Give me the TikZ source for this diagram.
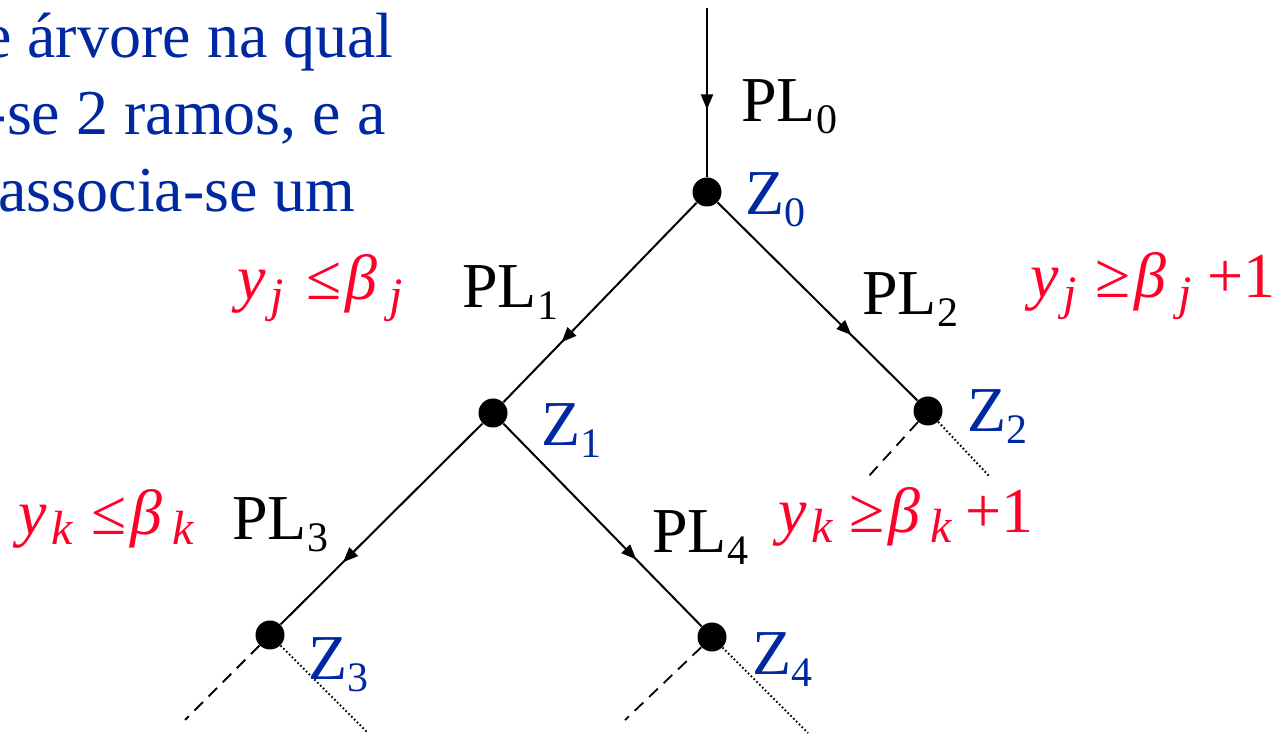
\documentclass[tikz,border=0pt]{standalone}
\usepackage{fontspec}
\setmainfont{Liberation Serif}
\usetikzlibrary{arrows.meta,decorations.markings}
\definecolor{zblue}{RGB}{0,40,160}
\definecolor{cred}{RGB}{255,0,40}
\newcommand\lsub[2][6pt]{\raisebox{-#1}{\fontsize{21}{21}\selectfont #2}}
\newcommand\csub[2][6pt]{\raisebox{-#1}{\fontsize{24}{24}\selectfont\itshape #2}}
\tikzset{
  dot/.style={circle,fill=black,inner sep=0pt,minimum size=14.5pt},
  lbl/.style={anchor=base west,inner sep=0pt,font=\fontsize{32}{38}\selectfont},
  txt/.style={anchor=base east,inner sep=0pt,font=\fontsize{32}{38}\selectfont,text=zblue},
  conn/.style={line width=1pt},
  midarrow/.style={postaction={decorate},decoration={markings,mark=at position #1 with {\arrow{Triangle[length=7.5pt,width=6pt]}}}},
  dashbranch/.style={line width=0.9pt,dash pattern=on 6pt off 4pt},
  dotbranch/.style={line width=1pt,dash pattern=on 0.8pt off 1.2pt}
}
\begin{document}
\begin{tikzpicture}[x=0.5pt,y=-0.5pt]
\useasboundingbox (0,0) rectangle (1282,737);
\clip (0,0) rectangle (1282,737);
% top-left text
\node[txt] (t1) at (394,58) {e árvore na qual};
\node[txt] (t2) at (386,135) {-se 2 ramos, e a};
\node[txt] (t3) at (356,212) {associa-se um};
% nodes
\coordinate (top) at (707,8);
\node[dot] (z0) at (707,192) {};
\node[dot] (z1) at (493,413) {};
\node[dot] (z2) at (928,411) {};
\node[dot] (z3) at (270,635) {};
\node[dot] (z4) at (712,637) {};
% free ends
\coordinate (z2a) at (868,477);
\coordinate (z2b) at (990,477);
\coordinate (z3a) at (185,720);
\coordinate (z3b) at (368,733);
\coordinate (z4a) at (625,720);
\coordinate (z4b) at (808,733);
% connectors
\draw[conn,midarrow=0.6] (top) -- (z0);
\draw[conn,midarrow=0.7] (z0) -- (z1);
\draw[conn,midarrow=0.67] (z0) -- (z2);
\draw[conn,midarrow=0.69] (z1) -- (z3);
\draw[conn,midarrow=0.67] (z1) -- (z4);
\draw[dashbranch] (z2) -- (z2a);
\draw[dotbranch] (z2) -- (z2b);
\draw[dashbranch] (z3) -- (z3a);
\draw[dotbranch] (z3) -- (z3b);
\draw[dashbranch] (z4) -- (z4a);
\draw[dotbranch] (z4) -- (z4b);
% PL labels
\node[lbl] (pl0) at (741,122) {PL\lsub{0}};
\node[lbl] (pl1) at (462,308) {PL\lsub{1}};
\node[lbl] (pl2) at (862,315) {PL\lsub{2}};
\node[lbl] (pl3) at (232,540) {PL\lsub{3}};
\node[lbl] (pl4) at (652,553) {PL\lsub{4}};
% Z labels
\node[lbl,text=zblue] (lz0) at (745,215) {Z\lsub{0}};
\node[lbl,text=zblue] (lz1) at (541,446) {Z\lsub{1}};
\node[lbl,text=zblue] (lz2) at (967,432) {Z\lsub{2}};
\node[lbl,text=zblue] (lz3) at (308,680) {Z\lsub{3}};
\node[lbl,text=zblue] (lz4) at (752,675) {Z\lsub{4}};
% constraints
\node[lbl,text=cred] (c1) at (237,300) {\textit{y}\hspace{2.5pt}\csub{j}\hspace{11pt}≤\hspace{2pt}\textit{β}\hspace{6pt}\csub{j}};
\node[lbl,text=cred] (c2) at (1030,298) {\textit{y}\hspace{2.5pt}\csub{j}\hspace{9pt}≥\hspace{2pt}\textit{β}\hspace{6pt}\csub{j}\hspace{8pt}+1};
\node[lbl,text=cred] (c3) at (18,535) {\textit{y}\hspace{2.5pt}\csub[5pt]{k}\hspace{9pt}≤\hspace{2pt}\textit{β}\hspace{5pt}\csub[5pt]{k}};
\node[lbl,text=cred] (c4) at (778,533) {\textit{y}\hspace{2.5pt}\csub[5pt]{k}\hspace{8pt}≥\hspace{2pt}\textit{β}\hspace{5pt}\csub[5pt]{k}\hspace{7pt}+1};
\end{tikzpicture}
\end{document}
